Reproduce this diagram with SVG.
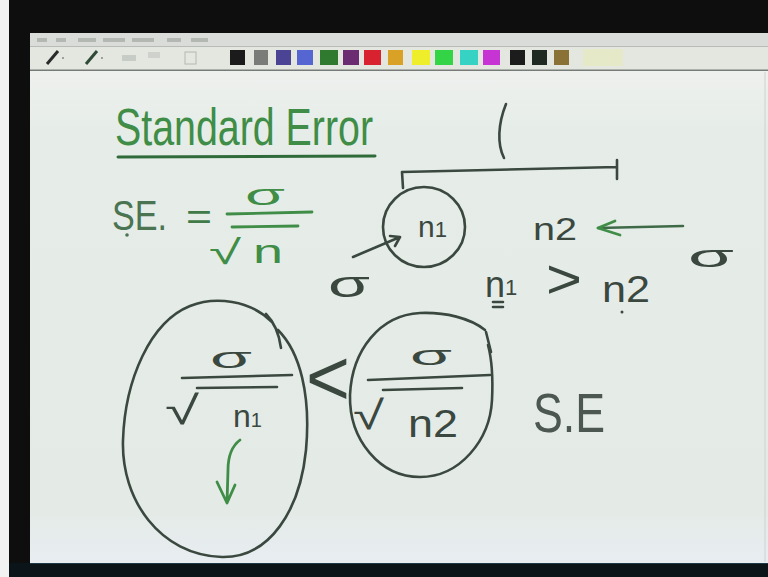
<svg xmlns="http://www.w3.org/2000/svg" width="768" height="577" viewBox="0 0 768 577">
<defs>
<linearGradient id="board" x1="0" y1="0" x2="0" y2="1">
<stop offset="0" stop-color="#eef0ee"/>
<stop offset="0.12" stop-color="#e6ede8"/>
<stop offset="0.9" stop-color="#e4ebe7"/>
<stop offset="1" stop-color="#e8edf2"/>
</linearGradient>
<style>
.ink{fill:none;stroke:#3a4840;stroke-width:2.6;stroke-linecap:round;stroke-linejoin:round}
.gink{fill:none;stroke:#3f8d47;stroke-width:2.8;stroke-linecap:round;stroke-linejoin:round}
.t{font-family:"Liberation Sans","Noto Sans",sans-serif;fill:#3a4840}
.g{fill:#3f8d47}
.menu{fill:#9aa09a;opacity:0.6}
</style>
</defs>
<!-- frame -->
<rect x="0" y="0" width="768" height="577" fill="#0e0e0e"/>
<rect x="0" y="0" width="9" height="577" fill="#f2f2f2"/>
<rect x="9" y="563" width="759" height="14" fill="#0b1519"/>
<line x1="30" y1="563.5" x2="768" y2="563.5" stroke="#1f3a46" stroke-width="1"/>
<!-- app chrome -->
<rect x="30" y="33" width="738" height="14" fill="#d9dcd8"/>
<g id="menu">
<rect class="menu" x="37" y="38" width="10" height="4"/>
<rect class="menu" x="56" y="38" width="10" height="4"/>
<rect class="menu" x="78" y="38" width="18" height="4"/>
<rect class="menu" x="103" y="38" width="22" height="4"/>
<rect class="menu" x="132" y="38" width="22" height="4"/>
<rect class="menu" x="167" y="38" width="14" height="4"/>
<rect class="menu" x="191" y="38" width="17" height="4"/>
</g>
<line x1="30" y1="46.5" x2="768" y2="46.5" stroke="#b8bcb8"/>
<rect x="30" y="47" width="738" height="23" fill="#e3e7df"/>
<line x1="30" y1="70" x2="768" y2="70" stroke="#9ba19b" stroke-width="1.5"/>
<g id="toolbar">
<line x1="47" y1="64" x2="58" y2="51" stroke="#2a2a2a" stroke-width="3"/>
<circle cx="63" cy="58" r="1" fill="#888"/>
<line x1="86" y1="64" x2="97" y2="51" stroke="#2f4a36" stroke-width="3"/>
<circle cx="102" cy="58" r="1" fill="#888"/>
<rect x="122" y="55" width="14" height="6" fill="#c8ccc6"/>
<rect x="148" y="52" width="12" height="6" fill="#cfd2cc"/>
<rect x="185" y="52" width="11" height="12" fill="none" stroke="#b4b8b2"/>
<rect x="230" y="50" width="15" height="15" fill="#1b1b1b"/>
<rect x="254" y="50" width="14" height="15" fill="#7a7c7a"/>
<rect x="276" y="50" width="15" height="15" fill="#4b4394"/>
<rect x="297" y="50" width="16" height="15" fill="#5565d2"/>
<rect x="320" y="50" width="18" height="15" fill="#2f7a2f"/>
<rect x="343" y="50" width="16" height="15" fill="#6b2c72"/>
<rect x="364" y="50" width="17" height="15" fill="#d8222f"/>
<rect x="388" y="50" width="15" height="15" fill="#d9a226"/>
<rect x="412" y="50" width="18" height="15" fill="#eeee2a"/>
<rect x="435" y="50" width="18" height="15" fill="#33d446"/>
<rect x="460" y="50" width="18" height="15" fill="#36d2c4"/>
<rect x="483" y="50" width="17" height="15" fill="#c634d4"/>
<rect x="510" y="50" width="15" height="15" fill="#1c1c1c"/>
<rect x="532" y="50" width="15" height="15" fill="#1f2b22"/>
<rect x="554" y="50" width="15" height="15" fill="#8a7236"/>
<rect x="583" y="49" width="40" height="17" fill="#e6e9c8"/>
</g>
<!-- board -->
<rect x="30" y="71" width="738" height="492" fill="url(#board)"/>
<line x1="765" y1="72" x2="765" y2="562" stroke="#cdd2cf" stroke-width="1"/>

<g id="title">
<text class="t g" x="115" y="145" font-size="52" textLength="258" lengthAdjust="spacingAndGlyphs">Standard Error</text>
<line x1="118" y1="157" x2="375" y2="156" stroke="#2f6b3a" stroke-width="3" stroke-linecap="round"/>
</g>

<g id="formula">
<text class="t" x="112" y="230" font-size="43" textLength="55" lengthAdjust="spacingAndGlyphs" style="fill:#4a7452">SE.</text>
<circle cx="127" cy="235" r="1.8" fill="#4a7452"/>
<text class="t" x="186" y="229" font-size="36" textLength="26" lengthAdjust="spacingAndGlyphs" style="fill:#3f7a48">=</text>
<text class="t g" x="245" y="205" font-size="30" textLength="40" lengthAdjust="spacingAndGlyphs">σ</text>
<line class="gink" x1="227" y1="214" x2="312" y2="212"/>
<line class="gink" x1="232" y1="227" x2="298" y2="226"/>
<text class="t g" x="209" y="264" font-size="34" textLength="32" lengthAdjust="spacingAndGlyphs">√</text>
<text class="t g" x="253" y="263" font-size="34" textLength="30" lengthAdjust="spacingAndGlyphs">n</text>
</g>

<g id="population">
<path class="ink" d="M506,104 C498,124 497,144 504,158"/>
<path class="ink" d="M403,188 L402,172 L617,167 M617,160 L617,179"/>
</g>

<g id="n1-node">
<ellipse class="ink" cx="424" cy="227" rx="41" ry="40"/>
<text class="t" x="418" y="237" font-size="30">n<tspan font-size="22">1</tspan></text>
</g>

<g id="sigma-left">
<text class="t" x="328" y="297" font-size="36" textLength="42" lengthAdjust="spacingAndGlyphs">σ</text>
</g>

<g id="n2-node">
<text class="t" x="533" y="240" font-size="32" textLength="44" lengthAdjust="spacingAndGlyphs">n2</text>
</g>

<g id="sigma-right">
<text class="t" x="688" y="267" font-size="32" textLength="46" lengthAdjust="spacingAndGlyphs">σ</text>
</g>

<g id="comparison">
<text class="t" x="485" y="297" font-size="36">n<tspan font-size="22" dy="-2">1</tspan></text>
<path class="ink" d="M493,302 L503,302 M493,307 L503,307" stroke-width="2"/>
<text class="t" x="546" y="298" font-size="56" textLength="36" lengthAdjust="spacingAndGlyphs">&gt;</text>
<text class="t" x="602" y="302" font-size="36" textLength="48" lengthAdjust="spacingAndGlyphs">n2</text>
<circle cx="622" cy="312" r="1.5" fill="#3a4840"/>
</g>

<g id="left-ellipse">
<path class="ink" d="M272,322 C250,300 215,296 190,306 C150,322 125,380 123,440 C121,500 160,555 222,557 C270,558 300,510 306,450 C311,395 300,352 278,330 M266,314 C274,322 279,333 281,348"/>
<text class="t" x="210" y="368" font-size="30" textLength="42" lengthAdjust="spacingAndGlyphs">σ</text>
<line class="ink" x1="182" y1="378" x2="292" y2="375"/>
<line class="ink" x1="197" y1="388" x2="277" y2="387"/>
<text class="t" x="165" y="424" font-size="40" textLength="34" lengthAdjust="spacingAndGlyphs">√</text>
<text class="t" x="233" y="427" font-size="32">n<tspan font-size="20">1</tspan></text>
</g>

<g id="less-than">
<text class="t" x="306" y="405" font-size="80" textLength="44" lengthAdjust="spacingAndGlyphs">&lt;</text>
</g>

<g id="right-ellipse">
<path class="ink" d="M485,330 C470,318 445,312 420,313 C380,315 352,350 350,395 C349,440 380,477 420,477 C460,477 490,440 492,400 C493,380 492,360 488,345 M486,332 L491,352"/>
<text class="t" x="410" y="365" font-size="28" textLength="42" lengthAdjust="spacingAndGlyphs">σ</text>
<line class="ink" x1="368" y1="380" x2="490" y2="375"/>
<line class="ink" x1="383" y1="390" x2="462" y2="388"/>
<text class="t" x="353" y="429" font-size="40" textLength="31" lengthAdjust="spacingAndGlyphs">√</text>
<text class="t" x="408" y="437" font-size="38" textLength="50" lengthAdjust="spacingAndGlyphs">n2</text>
</g>

<g id="se-label">
<text class="t" x="533" y="432" font-size="56" textLength="72" lengthAdjust="spacingAndGlyphs" style="fill:#4c5752">S.E</text>
</g>

<g id="connectors">
<path class="ink" d="M353,257 L400,237 M390,236 L400,237 L395,246"/>
<path class="ink" d="M683,226 L598,228" style="stroke:#3e6a48"/>
<path class="gink" d="M615,221 L598,228 L620,235"/>
<path class="gink" d="M240,440 C232,446 228,455 228,470 L227,503 M217,482 L227,503 L235,485"/>
</g>
</svg>
